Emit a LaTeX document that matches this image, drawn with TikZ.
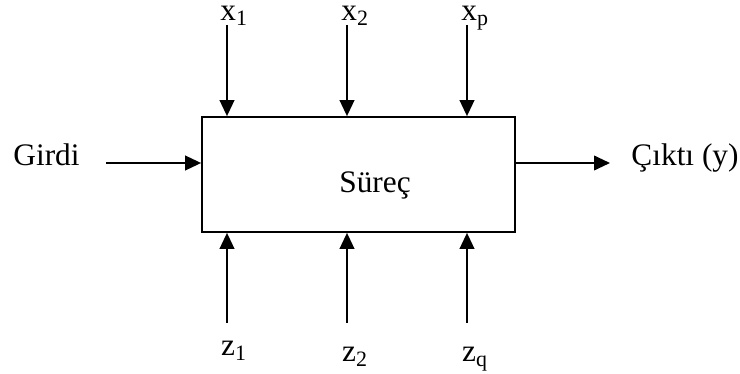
\documentclass[tikz,border=0pt]{standalone}
\usepackage{fontspec}
\setmainfont{Liberation Serif}
\usetikzlibrary{arrows.meta}
\begin{document}
\begin{tikzpicture}[x=0.75pt,y=-0.75pt,
  lbl/.style={font=\fontsize{23.5}{28}\selectfont, inner sep=0pt, anchor=base},
  arr/.style={line width=1.4pt, -{Triangle[length=12pt,width=11pt]}},
  procbox/.style={draw, line width=1.3pt, minimum width=313*0.75pt, minimum height=115*0.75pt, inner sep=0pt}]
\useasboundingbox (0,0) rectangle (740,374);
\node[procbox] (box) at (358.5,174.5) {};
\node[lbl] (sur) at (375,193) {Süreç};
\node[lbl] (gir) at (46.5,166) {Girdi};
\node[lbl] (cik) at (685,166) {Çıktı (y)};
\node[lbl] (x1) at (234,21) {x\textsubscript{1}};
\node[lbl] (x2) at (355,21) {x\textsubscript{2}};
\node[lbl] (xp) at (475,21) {x\textsubscript{p}};
\node[lbl] (z1) at (234,356) {z\textsubscript{1}};
\node[lbl] (z2) at (355,362) {z\textsubscript{2}};
\node[lbl] (zq) at (475,362) {z\textsubscript{q}};
\coordinate (t1) at (227,25);
\coordinate (t2) at (347,25);
\coordinate (t3) at (467,25);
\coordinate (b1) at (227,323);
\coordinate (b2) at (347,323);
\coordinate (b3) at (467,323);
\coordinate (gin) at (106,163);
\coordinate (gout) at (610,163);
\draw[arr] (t1) -- (t1 |- box.north);
\draw[arr] (t2) -- (t2 |- box.north);
\draw[arr] (t3) -- (t3 |- box.north);
\draw[arr] (b1) -- (b1 |- box.south);
\draw[arr] (b2) -- (b2 |- box.south);
\draw[arr] (b3) -- (b3 |- box.south);
\draw[arr] (gin) -- (gin -| box.west);
\draw[arr] (gin -| box.east) -- (gout);
\end{tikzpicture}
\end{document}
